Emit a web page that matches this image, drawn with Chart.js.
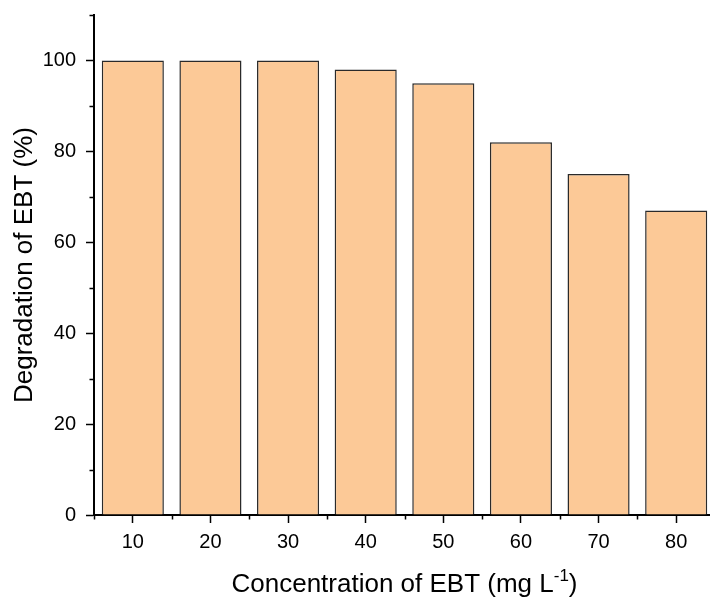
<!DOCTYPE html>
<html>
<head>
<meta charset="utf-8">
<script src="https://cdn.jsdelivr.net/npm/chart.js@4.4.1/dist/chart.umd.min.js"></script>
<style>
  html, body { margin: 0; padding: 0; background: #fff; overflow: hidden; }
  #wrap { width: 715px; height: 599px; }
</style>
</head>
<body>
<div id="wrap"><canvas id="chart" width="715" height="599"></canvas></div>
<script>
// data
const concentrations = ["10", "20", "30", "40", "50", "60", "70", "80"];
const degradation    = [100, 100, 100, 98, 95, 82, 75, 67];
const yMajorTicks    = [0, 20, 40, 60, 80, 100];
const yMinorTicks    = [10, 30, 50, 70, 90, 110];

const FONT = "'Liberation Sans', Arial, sans-serif";
const BAR_FILL = "#fcc997";
const BAR_EDGE = "#2a2a2a";

// short ticks between the labelled ones, plus the x title with its superscript
const extras = {
  id: "extras",
  afterDraw(chart) {
    const { ctx, scales: { x, y } } = chart;
    const left = chart.chartArea.left, bottom = chart.chartArea.bottom;
    ctx.save();
    ctx.strokeStyle = "#000";
    ctx.lineWidth = 1.5;
    ctx.beginPath();
    yMinorTicks.forEach(v => {
      const py = Math.round(y.getPixelForValue(v)) + 0.5;
      ctx.moveTo(left - 4.5, py);
      ctx.lineTo(left, py);
    });
    for (let i = 0; i <= concentrations.length; i++) {
      const px = Math.round(x.getPixelForValue(i - 0.5)) + 0.5;
      ctx.moveTo(px, bottom);
      ctx.lineTo(px, bottom + 4.5);
    }
    ctx.stroke();

    // "Concentration of EBT (mg L-1)"
    const main = "Concentration of EBT (mg L";
    const sup = "-1";
    const tail = ")";
    ctx.fillStyle = "#000";
    ctx.textBaseline = "alphabetic";
    ctx.font = "26px " + FONT;
    const wMain = ctx.measureText(main).width;
    const wTail = ctx.measureText(tail).width;
    ctx.font = "17px " + FONT;
    const wSup = ctx.measureText(sup).width;
    const total = wMain + wSup + wTail;
    const cx = (chart.chartArea.left + chart.chartArea.right) / 2;
    let tx = cx - total / 2;
    const base = 592;
    ctx.font = "26px " + FONT;
    ctx.fillText(main, tx, base);
    tx += wMain;
    ctx.font = "17px " + FONT;
    ctx.fillText(sup, tx, base - 11);
    tx += wSup;
    ctx.font = "26px " + FONT;
    ctx.fillText(tail, tx, base);
    ctx.restore();
  }
};

new Chart(document.getElementById("chart"), {
  type: "bar",
  data: {
    labels: concentrations,
    datasets: [{
      data: degradation,
      backgroundColor: BAR_FILL,
      borderColor: BAR_EDGE,
      borderWidth: 1.5,
      borderSkipped: "bottom",
      categoryPercentage: 1.0,
      barPercentage: 0.8
    }]
  },
  options: {
    responsive: false,
    animation: false,
    devicePixelRatio: 1,
    layout: { padding: { top: 15, right: 0, bottom: 0, left: 0 } },
    plugins: { legend: { display: false }, tooltip: { enabled: false } },
    scales: {
      x: {
        afterFit: s => { s.height = 84; s.paddingLeft = 0; s.paddingRight = 0; },
        border: { color: "#000", width: 2 },
        grid: {
          offset: false,
          drawOnChartArea: false,
          drawTicks: true,
          tickLength: 8,
          tickWidth: 1.5,
          tickColor: "#000"
        },
        ticks: {
          color: "#000",
          padding: 7,
          maxRotation: 0,
          font: { family: FONT, size: 20 }
        },
        title: { display: false }
      },
      y: {
        min: 0,
        max: 110,
        afterFit: s => { s.width = 94; s.paddingTop = 0; s.paddingBottom = 0; },
        border: { color: "#000", width: 2 },
        grid: {
          drawOnChartArea: false,
          drawTicks: true,
          tickLength: 8,
          tickWidth: 1.5,
          tickColor: c => yMajorTicks.includes(c.tick.value) ? "#000" : "rgba(0,0,0,0)"
        },
        ticks: {
          stepSize: 10,
          color: "#000",
          padding: 10,
          font: { family: FONT, size: 20 },
          callback: v => yMajorTicks.includes(v) ? String(v) : ""
        },
        title: {
          display: true,
          text: "Degradation of EBT (%)",
          color: "#000",
          padding: { top: 9, bottom: 0 },
          font: { family: FONT, size: 26 }
        }
      }
    }
  },
  plugins: [extras]
});
</script>
</body>
</html>
